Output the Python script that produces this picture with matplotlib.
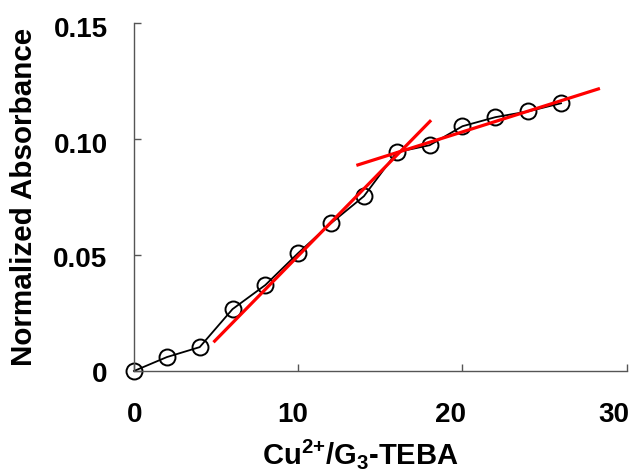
import matplotlib
matplotlib.use("Agg")
import matplotlib.pyplot as plt
from matplotlib.ticker import FixedLocator, FixedFormatter
from matplotlib.transforms import ScaledTranslation

# Data
ratio = [0, 2, 4, 6, 8, 10, 12, 14, 16, 18, 20, 22, 24, 26]
absorbance = [0.0, 0.0060, 0.0103, 0.0267, 0.0371, 0.0509, 0.0638, 0.0754,
              0.0944, 0.0974, 0.1056, 0.1095, 0.1120, 0.1155]
fit1_x = [4.84, 18.09]
fit1_y = [0.0124, 0.1082]
fit2_x = [13.54, 28.37]
fit2_y = [0.0887, 0.1219]
xticks = [0, 10, 20, 30]
xtick_labels = ["0", "10", "20", "30"]
yticks = [0, 0.05, 0.10, 0.15]
ytick_labels = ["0", "0.05", "0.10", "0.15"]

plt.rcParams['font.family'] = ['Liberation Sans', 'DejaVu Sans']
plt.rcParams['font.weight'] = 'bold'
plt.rcParams['mathtext.fontset'] = 'custom'
plt.rcParams['mathtext.rm'] = 'Liberation Sans:bold'
plt.rcParams['mathtext.it'] = 'Liberation Sans:bold'
plt.rcParams['mathtext.bf'] = 'Liberation Sans:bold'

fig = plt.figure(figsize=(6.36, 4.74), dpi=100)
ax = fig.add_axes([134/636, 1-371/474, (626.7-134)/636, (371-23.3)/474])

ax.plot(fit1_x, fit1_y, color='#ff0000', lw=2.3, zorder=3, solid_capstyle='butt')
ax.plot(fit2_x, fit2_y, color='#ff0000', lw=2.3, zorder=3, solid_capstyle='butt')
ax.plot(ratio, absorbance, color='black', lw=1.3, marker='o', markersize=11.5,
        markerfacecolor='none', markeredgecolor='black', markeredgewidth=1.4, zorder=2,
        clip_on=False)

ax.set_xlim(0, 30)
ax.set_ylim(0, 0.15)
for s in ['top', 'right']:
    ax.spines[s].set_visible(False)
for s in ['left', 'bottom']:
    ax.spines[s].set_color('#555555')
    ax.spines[s].set_linewidth(1.0)

ax.xaxis.set_major_locator(FixedLocator(xticks))
ax.xaxis.set_major_formatter(FixedFormatter(xtick_labels))
ax.yaxis.set_major_locator(FixedLocator(yticks))
ax.yaxis.set_major_formatter(FixedFormatter(ytick_labels))
ax.tick_params(direction='in', length=5, width=1, color='#555555',
               labelsize=20, labelcolor='black')
ax.tick_params(axis='x', pad=22)
ax.tick_params(axis='y', pad=19)

ax.set_xlabel(r'Cu$^{\mathregular{2{+}}}$/G$_{3}$-TEBA', fontsize=21, fontweight='bold',
              labelpad=7, x=0.4587)
ax.set_ylabel('Normalized Absorbance', fontsize=21.3, fontweight='bold', labelpad=11)

# small per-label offsets (pixels) to match reference placement
x_off = [1, -6, -12, -13]
y_off = [-1, -2, -4, -4]
for tick, dx in zip(ax.xaxis.get_major_ticks(), x_off):
    lab = tick.label1
    lab.set_transform(lab.get_transform() + ScaledTranslation(dx/100, 0, fig.dpi_scale_trans))
for tick, dy in zip(ax.yaxis.get_major_ticks(), y_off):
    lab = tick.label1
    lab.set_transform(lab.get_transform() + ScaledTranslation(0, dy/100, fig.dpi_scale_trans))

fig.savefig('out.png', dpi=100)
